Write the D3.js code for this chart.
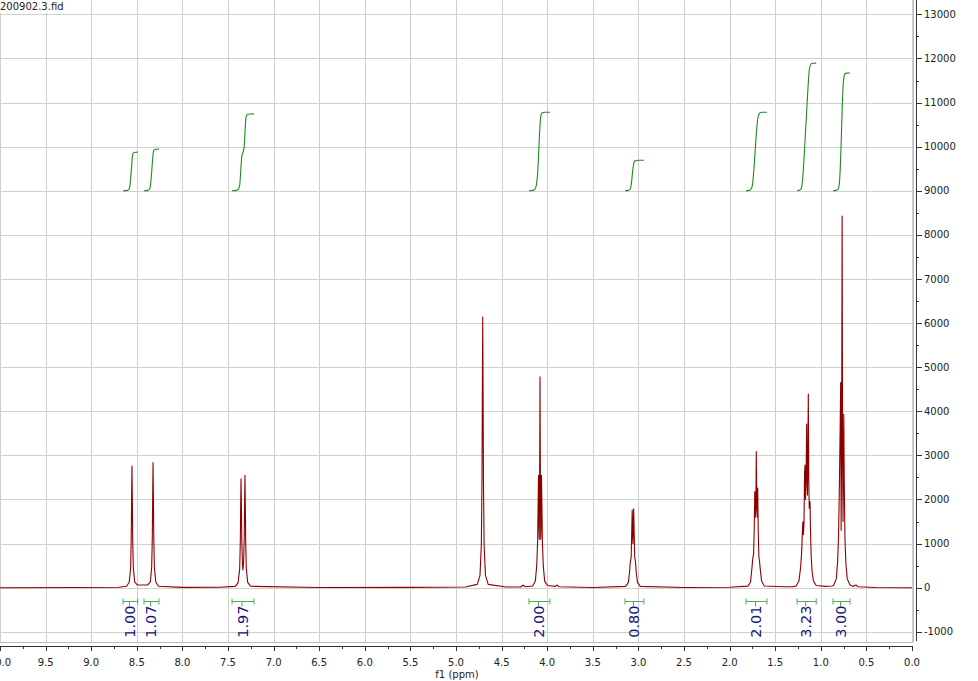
<!DOCTYPE html>
<html>
<head>
<meta charset="utf-8">
<script src="https://cdn.jsdelivr.net/npm/d3@7"></script>
<style>
  html, body { margin: 0; padding: 0; background: #fff; }
  svg { display: block; font-family: "DejaVu Sans", Verdana, sans-serif; }
</style>
</head>
<body>
<svg id="chart" width="978" height="681"></svg>
<script>
// ---------- DATA ----------
const title = "200902.3.fid";
const xLabel = "f1 (ppm)";
const xTicksMajor = [10.0, 9.5, 9.0, 8.5, 8.0, 7.5, 7.0, 6.5, 6.0, 5.5, 5.0, 4.5, 4.0, 3.5, 3.0, 2.5, 2.0, 1.5, 1.0, 0.5, 0.0];
const yTicksMajor = [-1000, 0, 1000, 2000, 3000, 4000, 5000, 6000, 7000, 8000, 9000, 10000, 11000, 12000, 13000];

// spectrum: [ppm, intensity]
const spectrum = [
  [10.0, 0], [9.2, 5], [8.7, 10],
  [8.613, 33], [8.583, 124], [8.568, 440], [8.561, 1100], [8.557, 2000], [8.553, 2760], [8.549, 2000], [8.545, 1100], [8.538, 440], [8.523, 130],
  [8.493, 60],
  [8.382, 60], [8.352, 130], [8.337, 455], [8.330, 1140], [8.326, 2050], [8.322, 2840], [8.318, 2050], [8.314, 1140], [8.307, 455], [8.292, 128], [8.262, 34],
  [8.0, 8], [7.6, 10],
  [7.42, 30], [7.39, 110], [7.372, 420], [7.365, 1050], [7.361, 1850], [7.357, 2470], [7.353, 1850], [7.349, 1100], [7.342, 550], [7.336, 400],
  [7.329, 560], [7.322, 1130], [7.318, 1880], [7.314, 2550], [7.310, 1880], [7.306, 1050], [7.299, 430], [7.284, 120], [7.254, 32],
  [6.5, 5], [5.5, 8], [4.9, 15],
  [4.767, 75], [4.737, 280], [4.722, 980], [4.715, 2460], [4.711, 4420], [4.707, 6140], [4.703, 4420], [4.699, 2460], [4.692, 980], [4.677, 280], [4.647, 75],
  [4.45, 15], [4.29, 15], [4.262, 60], [4.24, 20],
  [4.16, 40], [4.13, 150], [4.115, 500], [4.105, 1050], [4.099, 2000], [4.095, 2550], [4.091, 1400], [4.087, 1100], [4.083, 2500], [4.079, 4780],
  [4.075, 2500], [4.071, 1100], [4.067, 1400], [4.063, 2550], [4.059, 2000], [4.053, 1050], [4.043, 500], [4.028, 150], [3.998, 50],
  [3.91, 30], [3.89, 60], [3.87, 20], [3.5, 5],
  [3.14, 30], [3.11, 120], [3.097, 350], [3.09, 560], [3.085, 620], [3.079, 700], [3.073, 1300], [3.068, 1760], [3.063, 1200], [3.06, 1000],
  [3.057, 1250], [3.052, 1790], [3.047, 1300], [3.041, 700], [3.036, 640], [3.031, 560], [3.024, 350], [3.01, 120], [2.98, 30],
  [2.5, 5], [2.0, 10],
  [1.80, 35], [1.77, 130], [1.755, 450], [1.745, 680], [1.738, 750], [1.730, 1300], [1.724, 2180], [1.718, 1600], [1.712, 1800], [1.707, 3085],
  [1.702, 1900], [1.697, 1600], [1.692, 2260], [1.686, 1300], [1.679, 700], [1.672, 600], [1.665, 450], [1.65, 160], [1.62, 40],
  [1.4, 20], [1.3, 25],
  [1.27, 40], [1.24, 150], [1.222, 450], [1.21, 800], [1.2, 1400], [1.195, 1500], [1.19, 1200], [1.184, 1500], [1.178, 2600], [1.173, 2780],
  [1.168, 2000], [1.162, 2400], [1.155, 3710], [1.151, 2500], [1.146, 2100], [1.141, 3300], [1.137, 4390], [1.132, 2500], [1.127, 1800],
  [1.122, 1950], [1.118, 1950], [1.113, 1300], [1.105, 700], [1.095, 350], [1.08, 150], [1.05, 50],
  [0.95, 30], [0.88, 40],
  [0.86, 50], [0.83, 200], [0.815, 600], [0.805, 1200], [0.797, 2200], [0.788, 3600], [0.782, 4650], [0.777, 1300], [0.772, 3000], [0.766, 8430],
  [0.761, 3000], [0.756, 1500], [0.752, 2600], [0.748, 3930], [0.743, 2400], [0.735, 1100], [0.725, 550], [0.71, 200], [0.68, 60],
  [0.65, 30], [0.615, 60], [0.59, 20], [0.4, 5], [0.0, 0]
];

// integral curves: [ppm, value]
const integral1 = [[8.651, 9000], [8.60, 9010], [8.585, 9040], [8.575, 9120], [8.565, 9350], [8.555, 9600], [8.548, 9780], [8.54, 9850], [8.53, 9868], [8.51, 9875], [8.49, 9877]];
const integral2 = [[8.421, 9000], [8.38, 9010], [8.36, 9040], [8.35, 9120], [8.34, 9350], [8.33, 9620], [8.322, 9820], [8.315, 9910], [8.305, 9935], [8.28, 9942], [8.257, 9945]];
const integral3 = [[7.456, 9000], [7.41, 9010], [7.385, 9040], [7.372, 9120], [7.365, 9300], [7.357, 9560], [7.349, 9780], [7.340, 9850], [7.332, 9900], [7.324, 9980], [7.318, 10150], [7.312, 10420], [7.305, 10620], [7.297, 10710], [7.285, 10735], [7.25, 10742], [7.215, 10745]];
const integral4 = [[4.20, 9000], [4.16, 9010], [4.135, 9040], [4.12, 9120], [4.105, 9400], [4.095, 9800], [4.085, 10250], [4.075, 10600], [4.065, 10730], [4.055, 10770], [4.03, 10780], [3.97, 10782]];
const integral5 = [[3.147, 9000], [3.11, 9010], [3.09, 9040], [3.08, 9120], [3.07, 9300], [3.06, 9500], [3.05, 9630], [3.04, 9675], [3.025, 9688], [2.99, 9692], [2.94, 9693]];
const integral6 = [[1.82, 9000], [1.785, 9010], [1.765, 9040], [1.75, 9130], [1.735, 9450], [1.72, 9900], [1.705, 10350], [1.69, 10650], [1.675, 10750], [1.66, 10775], [1.63, 10780], [1.59, 10782]];
const integral7 = [[1.26, 9000], [1.235, 9010], [1.215, 9050], [1.20, 9250], [1.185, 9700], [1.17, 10250], [1.155, 10800], [1.14, 11350], [1.128, 11700], [1.115, 11850], [1.10, 11885], [1.08, 11892], [1.05, 11895]];
const integral8 = [[0.866, 9000], [0.83, 9010], [0.81, 9040], [0.795, 9200], [0.785, 9600], [0.775, 10200], [0.765, 10900], [0.755, 11400], [0.745, 11600], [0.735, 11655], [0.72, 11668], [0.68, 11672]];
const integrals = [integral1, integral2, integral3, integral4, integral5, integral6, integral7, integral8];

// integration ranges (ppm from, ppm to) and their values
const integralFrom = [8.651, 8.421, 7.456, 4.20, 3.147, 1.82, 1.26, 0.866];
const integralTo   = [8.49, 8.257, 7.215, 3.97, 2.94, 1.59, 1.05, 0.68];
const integralValues = ["1.00", "1.07", "1.97", "2.00", "0.80", "2.01", "3.23", "3.00"];

// ---------- DRAWING ----------
const svg = d3.select("#chart");
const W = 978, H = 681;
const plotLeft = 0, plotRight = 912, plotTop = 0, plotBottom = 642;
const axisY = 646, axisX = 916;

const x = d3.scaleLinear().domain([10, 0]).range([0, 912]);
const y = d3.scaleLinear().domain([-1000, 13000]).range([631.8, 14.4]);

const gridColor = "#cfcfcf";

// grid
const grid = svg.append("g").attr("shape-rendering", "crispEdges");
grid.selectAll("line.v").data(xTicksMajor).join("line")
  .attr("x1", d => Math.round(x(d)) + 0.5).attr("x2", d => Math.round(x(d)) + 0.5)
  .attr("y1", plotTop).attr("y2", plotBottom)
  .attr("stroke", gridColor).attr("stroke-width", 1);
grid.selectAll("line.h").data(yTicksMajor).join("line")
  .attr("x1", plotLeft).attr("x2", plotRight + 1)
  .attr("y1", d => Math.round(y(d)) + 0.5).attr("y2", d => Math.round(y(d)) + 0.5)
  .attr("stroke", gridColor).attr("stroke-width", 1);
grid.append("line").attr("x1", plotLeft).attr("x2", plotRight + 1)
  .attr("y1", plotBottom + 0.5).attr("y2", plotBottom + 0.5)
  .attr("stroke", "#bdbdbd");
grid.append("line").attr("x1", plotRight + 1.5).attr("x2", plotRight + 1.5)
  .attr("y1", plotTop).attr("y2", plotBottom)
  .attr("stroke", "#bdbdbd");

// integral curves
const integralLine = d3.line().x(d => x(d[0])).y(d => y(d[1])).curve(d3.curveMonotoneX);
svg.append("g").selectAll("path").data(integrals).join("path")
  .attr("d", d => integralLine(d.slice().sort((a, b) => a[0] - b[0])))
  .attr("fill", "none").attr("stroke", "#1f8a1f").attr("stroke-width", 1.1);

// spectrum
const specLine = d3.line().x(d => x(d[0])).y(d => y(d[1]));
svg.append("path")
  .attr("d", specLine(spectrum))
  .attr("fill", "none").attr("stroke", "#8e0000").attr("stroke-width", 1.1)
  .attr("stroke-linejoin", "round");

// integration brackets + labels
const br = svg.append("g");
integralValues.forEach((v, i) => {
  const x1 = x(integralFrom[i]), x2 = x(integralTo[i]);
  const xm = (x1 + x2) / 2 - 1;
  const yb = 601.5;
  const g = br.append("g").attr("stroke", "#4caf50").attr("stroke-width", 1);
  g.append("line").attr("x1", x1).attr("x2", x2).attr("y1", yb).attr("y2", yb);
  g.append("line").attr("x1", x1).attr("x2", x1).attr("y1", yb - 3).attr("y2", yb + 3);
  g.append("line").attr("x1", x2).attr("x2", x2).attr("y1", yb - 3).attr("y2", yb + 3);
  g.append("line").attr("x1", xm).attr("x2", xm).attr("y1", yb).attr("y2", yb + 5);
  br.append("text")
    .attr("transform", `translate(${xm + 5.5},${yb + 4}) rotate(-90)`)
    .attr("text-anchor", "end")
    .attr("font-size", 14.5)
    .attr("fill", "#14147e")
    .text(v);
});

// X axis (bottom)
const xAxisG = svg.append("g").attr("shape-rendering", "crispEdges");
xAxisG.append("line").attr("x1", 0).attr("x2", x(0) + 1).attr("y1", axisY + 0.5).attr("y2", axisY + 0.5).attr("stroke", "#333");
const xMinor = d3.range(0, 41).map(i => i * 0.25);
xAxisG.selectAll("line.tick").data(xMinor).join("line")
  .attr("x1", d => Math.round(x(d)) + 0.5).attr("x2", d => Math.round(x(d)) + 0.5)
  .attr("y1", axisY).attr("y2", d => (Math.abs(d * 2 - Math.round(d * 2)) < 1e-6) ? axisY + 5 : axisY + 3)
  .attr("stroke", "#333");
svg.append("g").selectAll("text").data(xTicksMajor).join("text")
  .attr("x", d => x(d)).attr("y", 665.5)
  .attr("text-anchor", "middle").attr("font-size", 10).attr("fill", "#222")
  .text(d => d.toFixed(1));
svg.append("text").attr("x", 457).attr("y", 677.5).attr("text-anchor", "middle")
  .attr("font-size", 10).attr("fill", "#222").text(xLabel);

// Y axis (right)
const yAxisG = svg.append("g").attr("shape-rendering", "crispEdges");
yAxisG.append("line").attr("x1", axisX + 0.5).attr("x2", axisX + 0.5).attr("y1", 0).attr("y2", 641).attr("stroke", "#333");
const yMinor = d3.range(-1000, 13500, 500);
yAxisG.selectAll("line.tick").data(yMinor).join("line")
  .attr("x1", axisX).attr("x2", d => (d % 1000 === 0) ? axisX + 6 : axisX + 3)
  .attr("y1", d => Math.round(y(d)) + 0.5).attr("y2", d => Math.round(y(d)) + 0.5)
  .attr("stroke", "#333");
svg.append("g").selectAll("text").data(yTicksMajor).join("text")
  .attr("x", 924).attr("y", d => y(d) + 3.5)
  .attr("font-size", 10).attr("fill", "#222")
  .text(d => d);

// title
svg.append("rect").attr("x", 0).attr("y", 0).attr("width", 67).attr("height", 13).attr("fill", "#fff");
svg.append("text").attr("x", 0).attr("y", 10).attr("font-size", 10).attr("fill", "#222").text(title);
</script>
</body>
</html>
